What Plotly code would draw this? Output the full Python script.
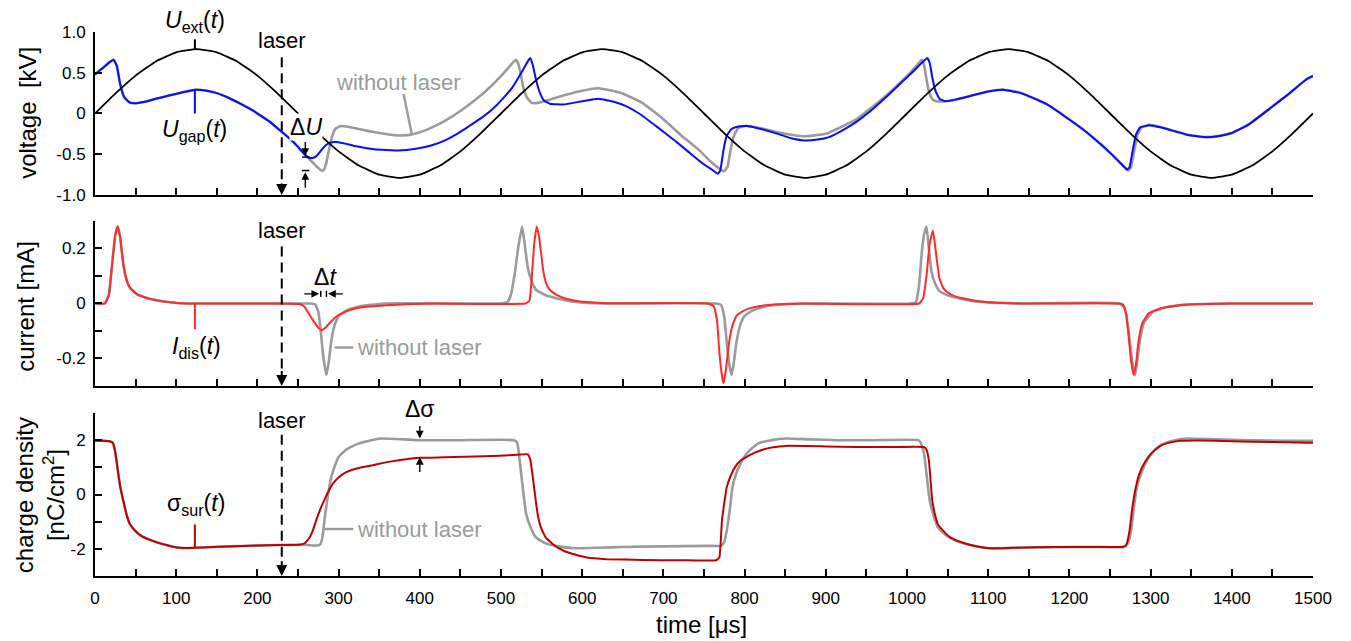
import plotly.graph_objects as go

FONT = "Liberation Sans, Arial, sans-serif"

# ---------------- data ----------------
# time axis [us] / tick values
x_ticks = list(range(0, 1501, 50))
x_ticktext = [str(v) if v % 100 == 0 else "" for v in x_ticks]
laser_time = 230

# external voltage U_ext [kV]
t_ext = list(range(0, 1501, 25))
u_ext = [0, 0.244, 0.465, 0.639, 0.751, 0.79, 0.751, 0.639, 0.465, 0.244,
         0, -0.244, -0.465, -0.639, -0.751, -0.79, -0.751, -0.639, -0.465, -0.244,
         0, 0.244, 0.465, 0.639, 0.751, 0.79, 0.751, 0.639, 0.465, 0.244,
         0, -0.244, -0.465, -0.639, -0.751, -0.79, -0.751, -0.639, -0.465, -0.244,
         0, 0.244, 0.465, 0.639, 0.751, 0.79, 0.751, 0.639, 0.465, 0.244,
         0, -0.244, -0.465, -0.639, -0.751, -0.79, -0.751, -0.639, -0.465, -0.244,
         0]

# gap voltage with laser [kV]
t_gap = [0, 10, 18, 23, 27, 31, 36, 42, 48, 60,
         75, 91, 108, 123, 138, 150, 165, 179, 192, 203,
         215, 227, 240, 250, 258, 263, 268, 273, 278, 284,
         290, 298, 308, 320, 344, 373, 397, 415, 431, 446,
         460, 475, 489, 502, 514, 525, 533, 536, 539, 543,
         548, 553, 560, 577, 600, 620, 640, 654, 670, 693,
         715, 732, 748, 760, 767, 770, 774, 778, 784, 790,
         802, 820, 841, 860, 873, 890, 904, 920, 938, 955,
         972, 990, 1006, 1018, 1025, 1028, 1031, 1035, 1040, 1047,
         1060, 1080, 1100, 1118, 1140, 1160, 1171, 1195, 1220, 1240,
         1254, 1265, 1271, 1274, 1278, 1282, 1287, 1298, 1312, 1327,
         1345, 1366, 1385, 1400, 1420, 1448, 1470, 1492, 1500]
u_gap = [0.48, 0.56, 0.63, 0.66, 0.58, 0.36, 0.2, 0.14, 0.125, 0.14,
         0.18, 0.22, 0.26, 0.29, 0.28, 0.25, 0.19, 0.12, 0.05, -0.02,
         -0.1, -0.2, -0.31, -0.41, -0.5, -0.54, -0.545, -0.52, -0.46, -0.39,
         -0.355, -0.35, -0.37, -0.4, -0.44, -0.455, -0.43, -0.39, -0.33, -0.25,
         -0.16, -0.06, 0.05, 0.18, 0.32, 0.5, 0.64, 0.68, 0.6, 0.42,
         0.25, 0.16, 0.12, 0.11, 0.15, 0.18, 0.14, 0.09, 0.0, -0.17,
         -0.34, -0.48, -0.61, -0.69, -0.74, -0.7, -0.45, -0.27, -0.19, -0.165,
         -0.155, -0.19, -0.25, -0.31, -0.33, -0.32, -0.29, -0.21, -0.1, 0.03,
         0.18, 0.35, 0.5, 0.62, 0.68, 0.62, 0.45, 0.28, 0.18, 0.15,
         0.17, 0.22, 0.27, 0.29, 0.25, 0.17, 0.12, -0.04, -0.22, -0.39,
         -0.52, -0.63, -0.69, -0.66, -0.45, -0.26, -0.17, -0.145, -0.17, -0.21,
         -0.26, -0.29, -0.275, -0.24, -0.14, 0.07, 0.24, 0.42, 0.46]

# gap voltage without laser [kV]
t_gap0 = [0, 10, 18, 23, 27, 31, 36, 42, 48, 60,
          75, 91, 108, 123, 138, 150, 165, 179, 192, 203,
          215, 227, 240, 250, 258, 263, 268, 273, 279, 282,
          285, 288, 292, 296, 302, 310, 334, 360, 373, 385,
          397, 415, 431, 450, 470, 485, 499, 510, 518, 521,
          524, 528, 533, 538, 545, 557, 580, 600, 620, 645,
          660, 674, 700, 722, 744, 758, 768, 775, 779, 783,
          787, 792, 802, 820, 841, 873, 900, 938, 972, 1000,
          1012, 1018, 1021, 1024, 1027, 1031, 1036, 1047, 1060, 1080,
          1100, 1118, 1140, 1160, 1171, 1195, 1220, 1240, 1254, 1265,
          1273, 1276, 1280, 1284, 1289, 1299, 1312, 1327, 1345, 1366,
          1385, 1400, 1420, 1448, 1470, 1492, 1500]
u_gap0 = [0.48, 0.56, 0.63, 0.66, 0.58, 0.36, 0.2, 0.14, 0.125, 0.14,
          0.18, 0.22, 0.26, 0.29, 0.28, 0.25, 0.19, 0.12, 0.05, -0.02,
          -0.1, -0.2, -0.31, -0.41, -0.5, -0.55, -0.6, -0.65, -0.7, -0.69,
          -0.6, -0.45, -0.28, -0.19, -0.155, -0.16, -0.21, -0.255, -0.27, -0.265,
          -0.24, -0.17, -0.09, 0.03, 0.18, 0.31, 0.45, 0.57, 0.66, 0.62,
          0.5, 0.3, 0.18, 0.13, 0.13, 0.16, 0.23, 0.28, 0.31, 0.26,
          0.2, 0.13, -0.07, -0.27, -0.45, -0.59, -0.67, -0.71, -0.65, -0.43,
          -0.27, -0.18, -0.15, -0.18, -0.23, -0.28, -0.25, -0.07, 0.2, 0.46,
          0.59, 0.66, 0.6, 0.42, 0.27, 0.18, 0.15, 0.15, 0.17, 0.22,
          0.27, 0.295, 0.255, 0.17, 0.12, -0.04, -0.22, -0.39, -0.52, -0.63,
          -0.7, -0.66, -0.45, -0.26, -0.17, -0.14, -0.165, -0.21, -0.26, -0.29,
          -0.275, -0.24, -0.14, 0.07, 0.24, 0.42, 0.46]

# discharge current with laser [mA]
t_cur = [0, 12, 17, 21, 25, 28, 31, 35, 39, 43,
         52, 62, 72, 85, 101, 120, 200, 252, 258, 264,
         270, 275, 279, 283, 290, 297, 305, 318, 334, 360,
         383, 420, 530, 535, 538, 541, 544, 547, 552, 556,
         560, 568, 577, 590, 606, 630, 755, 762, 766, 769,
         772, 774, 777, 781, 785, 790, 798, 807, 820, 841,
         870, 1015, 1020, 1024, 1028, 1032, 1035, 1040, 1045, 1050,
         1060, 1084, 1110, 1140, 1260, 1266, 1270, 1273, 1276, 1279,
         1282, 1285, 1290, 1298, 1310, 1327, 1351, 1400, 1500]
i_cur = [0, 0, 0.03, 0.14, 0.25, 0.28, 0.24, 0.14, 0.085, 0.057,
         0.033, 0.022, 0.014, 0.007, 0.002, 0, 0, -0.002, -0.012, -0.04,
         -0.068, -0.088, -0.096, -0.09, -0.068, -0.048, -0.034, -0.02, -0.012, -0.006,
         -0.003, 0, 0, 0.01, 0.1, 0.22, 0.28, 0.24, 0.12, 0.07,
         0.05, 0.032, 0.02, 0.011, 0.005, 0.001, 0, -0.01, -0.06, -0.18,
         -0.26, -0.29, -0.24, -0.14, -0.08, -0.045, -0.028, -0.017, -0.009, -0.003,
         0, 0, 0.02, 0.1, 0.22, 0.265, 0.2, 0.09, 0.055, 0.04,
         0.025, 0.01, 0.003, 0, 0, -0.004, -0.04, -0.12, -0.21, -0.26,
         -0.22, -0.14, -0.07, -0.035, -0.02, -0.01, -0.003, 0, 0]

# discharge current without laser [mA]
t_cur0 = [0, 12, 17, 21, 25, 28, 31, 35, 39, 43,
          52, 62, 72, 85, 101, 120, 240, 265, 271, 275,
          278, 281, 285, 288, 291, 295, 300, 310, 324, 340,
          358, 500, 508, 512, 517, 521, 526, 529, 533, 538,
          543, 555, 567, 585, 601, 640, 765, 771, 775, 778,
          781, 784, 787, 790, 795, 800, 810, 827, 850, 880,
          1005, 1011, 1015, 1018, 1021, 1024, 1027, 1030, 1035, 1040,
          1050, 1074, 1100, 1140, 1262, 1268, 1272, 1276, 1279, 1281,
          1284, 1287, 1292, 1303, 1320, 1345, 1400, 1500]
i_cur0 = [0, 0, 0.03, 0.14, 0.25, 0.28, 0.24, 0.14, 0.085, 0.057,
          0.033, 0.022, 0.014, 0.007, 0.002, 0, 0, 0, -0.003, -0.03,
          -0.1, -0.19, -0.26, -0.21, -0.136, -0.08, -0.046, -0.025, -0.012, -0.005,
          0, 0, 0.005, 0.03, 0.11, 0.2, 0.28, 0.22, 0.13, 0.08,
          0.05, 0.03, 0.02, 0.008, 0.003, 0, 0, -0.005, -0.05, -0.14,
          -0.22, -0.26, -0.21, -0.14, -0.075, -0.045, -0.025, -0.01, -0.003, 0,
          0, 0.005, 0.07, 0.18, 0.25, 0.28, 0.2, 0.117, 0.07, 0.045,
          0.03, 0.012, 0.004, 0, 0, -0.015, -0.08, -0.18, -0.24, -0.26,
          -0.2, -0.13, -0.07, -0.03, -0.013, -0.004, 0, 0]

# surface charge density with laser [nC/cm2]
t_sig = [0, 10, 18, 22, 25, 28, 31, 35, 39, 43,
         50, 57, 67, 77, 90, 101, 115, 123, 140, 164,
         200, 227, 251, 258, 264, 268, 273, 278, 283, 288,
         293, 300, 310, 320, 334, 350, 365, 383, 400, 431,
         480, 515, 533, 536, 538, 541, 545, 549, 555, 565,
         577, 590, 606, 630, 674, 720, 765, 769, 772, 775,
         778, 783, 788, 795, 802, 812, 822, 835, 851, 900,
         938, 980, 1021, 1024, 1027, 1031, 1035, 1038, 1045, 1052,
         1060, 1075, 1090, 1103, 1130, 1181, 1230, 1266, 1270, 1274,
         1277, 1281, 1286, 1293, 1302, 1313, 1325, 1337, 1360, 1400,
         1450, 1492, 1500]
s_sig = [1.98, 1.98, 1.96, 1.9, 1.55, 0.9, 0.3, -0.25, -0.75, -1.09,
         -1.35, -1.52, -1.66, -1.77, -1.88, -1.95, -1.97, -1.96, -1.94, -1.91,
         -1.88, -1.86, -1.85, -1.8, -1.6, -1.35, -0.9, -0.5, -0.16, 0.15,
         0.4, 0.63, 0.83, 0.94, 1.03, 1.13, 1.22, 1.3, 1.35, 1.37,
         1.41, 1.45, 1.48, 1.3, 0.9, 0.2, -0.7, -1.2, -1.58, -1.86,
         -2.07, -2.2, -2.32, -2.38, -2.41, -2.42, -2.42, -2.3, -1.0, -0.3,
         0.27, 0.7, 1.0, 1.25, 1.38, 1.53, 1.65, 1.74, 1.79, 1.77,
         1.75, 1.75, 1.75, 1.65, 1.25, -0.2, -0.8, -1.09, -1.35, -1.55,
         -1.68, -1.83, -1.93, -1.98, -1.96, -1.93, -1.93, -1.92, -1.85, -1.35,
         -0.6, 0.15, 0.75, 1.2, 1.55, 1.81, 1.92, 1.98, 1.99, 1.96,
         1.93, 1.91, 1.91]

# surface charge density without laser [nC/cm2]
t_sig0 = [0, 10, 18, 22, 25, 28, 31, 35, 39, 43,
          50, 57, 67, 77, 90, 101, 115, 123, 140, 164,
          200, 227, 251, 258, 264, 272, 277, 280, 283, 287,
          291, 296, 300, 308, 319, 335, 353, 380, 400, 450,
          516, 520, 523, 527, 531, 537, 543, 555, 567, 591,
          620, 650, 700, 754, 771, 775, 778, 782, 785, 790,
          798, 807, 817, 833, 851, 880, 914, 960, 1014, 1017,
          1021, 1025, 1028, 1033, 1038, 1048, 1060, 1080, 1103, 1140,
          1181, 1230, 1268, 1272, 1276, 1279, 1283, 1290, 1298, 1307,
          1317, 1330, 1346, 1380, 1424, 1470, 1500]
s_sig0 = [1.98, 1.98, 1.96, 1.9, 1.55, 0.9, 0.3, -0.25, -0.75, -1.09,
          -1.35, -1.52, -1.66, -1.77, -1.88, -1.95, -1.97, -1.96, -1.94, -1.91,
          -1.88, -1.86, -1.85, -1.85, -1.87, -1.88, -1.85, -1.6, -0.84, 0.0,
          0.64, 1.1, 1.38, 1.62, 1.81, 1.96, 2.06, 2.03, 2.0, 2.0,
          2.0, 1.9, 1.26, 0.2, -0.72, -1.25, -1.58, -1.8, -1.89, -1.98,
          -1.96, -1.93, -1.91, -1.89, -1.89, -1.75, -1.33, -0.5, 0.27, 0.8,
          1.32, 1.65, 1.88, 2.0, 2.06, 2.03, 2.0, 2.0, 2.0, 1.9,
          1.51, 0.5, -0.22, -0.8, -1.21, -1.5, -1.7, -1.88, -1.98, -1.96,
          -1.94, -1.93, -1.93, -1.8, -1.33, -0.6, 0.27, 0.9, 1.38, 1.7,
          1.88, 2.0, 2.06, 2.03, 2.0, 1.98, 1.98]

for a, b in [(t_ext, u_ext), (t_gap, u_gap), (t_gap0, u_gap0), (t_cur, i_cur),
             (t_cur0, i_cur0), (t_sig, s_sig), (t_sig0, s_sig0)]:
    assert len(a) == len(b), (len(a), len(b))

# ---------------- styling ----------------
BLACK = "#000000"
BLUE = "#0a0aff"
GRAY = "#9b9b9b"
RED = "#ff2a2a"
DARKRED = "#c00000"

fig = go.Figure()


def add(x, y, color, width, xa, ya):
    fig.add_trace(go.Scatter(x=x, y=y, mode="lines",
                             line=dict(color=color, width=width, shape="spline", smoothing=0.35),
                             xaxis=xa, yaxis=ya, showlegend=False, hoverinfo="skip"))


add(t_gap0, u_gap0, GRAY, 2.6, "x", "y")
add(t_gap, u_gap, BLUE, 2, "x", "y")
add(t_ext, u_ext, BLACK, 1.8, "x", "y")
add(t_cur0, i_cur0, GRAY, 2.6, "x2", "y2")
add(t_cur, i_cur, RED, 2, "x2", "y2")
add(t_sig0, s_sig0, GRAY, 2.6, "x3", "y3")
add(t_sig, s_sig, DARKRED, 2, "x3", "y3")

TICKFONT = dict(family=FONT, size=17, color="black")
xcommon = dict(range=[0, 1500], showline=True, linewidth=2, linecolor="black",
               ticks="inside", ticklen=7, tickwidth=2, tickcolor="black",
               tickvals=x_ticks, showgrid=False, zeroline=False, tickfont=TICKFONT)
ycommon = dict(showline=True, linewidth=2, linecolor="black", ticks="inside",
               ticklen=7, tickwidth=2, tickcolor="black", showgrid=False,
               zeroline=False, tickfont=TICKFONT, ticklabelstandoff=4)

fig.update_layout(
    width=1351, height=641,
    margin=dict(l=95, r=38, t=32, b=65),
    paper_bgcolor="white", plot_bgcolor="white",
    font=dict(family=FONT, color="black"),
    xaxis=dict(**xcommon, anchor="y", showticklabels=False),
    xaxis2=dict(**xcommon, anchor="y2", showticklabels=False, matches="x"),
    xaxis3=dict(**xcommon, anchor="y3", ticktext=x_ticktext, ticklabelstandoff=6),
    yaxis=dict(**ycommon, anchor="x", domain=[0.7004, 1.0], range=[-1, 1],
               tickvals=[-1, -0.5, 0, 0.5, 1], ticktext=["-1.0", "-0.5", "0", "0.5", "1.0"]),
    yaxis2=dict(**ycommon, anchor="x2", domain=[0.3493, 0.6526], range=[-0.3, 0.3],
                tickvals=[-0.3, -0.2, -0.1, 0, 0.1, 0.2, 0.3],
                ticktext=["", "-0.2", "", "0", "", "0.2", ""]),
    yaxis3=dict(**ycommon, anchor="x3", domain=[0, 0.2996], range=[-3, 3],
                tickvals=[-3, -2, -1, 0, 1, 2, 3],
                ticktext=["", "-2", "", "0", "", "2", ""]),
)

shapes = []
ann = []
LBL = 22


def text(x, y, s, xref, yref, color="black", size=LBL, **kw):
    kw.setdefault("xanchor", "center")
    kw.setdefault("yanchor", "middle")
    ann.append(dict(x=x, y=y, text=s, xref=xref, yref=yref, showarrow=False,
                    font=dict(family=FONT, size=size, color=color), **kw))


def seg(x0, y0, x1, y1, xref, yref, color="black", width=2, dash=None):
    ln = dict(color=color, width=width)
    if dash:
        ln["dash"] = dash
    shapes.append(dict(type="line", x0=x0, y0=y0, x1=x1, y1=y1, xref=xref, yref=yref, line=ln))


def arrow(x, y, ax, ay, xref, yref, size=1.4, width=1.6):
    ann.append(dict(x=x, y=y, ax=ax, ay=ay, xref=xref, yref=yref, axref=xref, ayref=yref,
                    showarrow=True, arrowhead=2, arrowsize=size, arrowwidth=width,
                    arrowcolor="black", text="", standoff=0))


# laser arrows in every panel
for xr, yr, ytxt, ytop, ybot, yhead in [("x", "y", 0.89, 0.69, -0.84, -1.0),
                                        ("x2", "y2", 0.267, 0.207, -0.24, -0.3),
                                        ("x3", "y3", 2.74, 2.2, -2.4, -3.0)]:
    text(laser_time, ytxt, "laser", xr, yr)
    seg(laser_time, ytop, laser_time, ybot, xr, yr, width=2, dash="10px,6px")
    arrow(laser_time, yhead, laser_time, ybot, xr, yr, size=1.1, width=2)

# top panel labels
seg(123, 0.79, 123, 0.91, "x", "y", color=BLACK, width=2)
text(123, 0.93, "<i>U</i><sub>ext</sub>(<i>t</i>)", "x", "y", yanchor="bottom", size=23)
seg(123, 0.29, 123, 0.0, "x", "y", color=BLUE, width=2)
text(123, -0.01, "<i>U</i><sub>gap</sub>(<i>t</i>)", "x", "y", yanchor="top", size=23)
text(374, 0.38, "without laser", "x", "y", color=GRAY)
seg(380, 0.24, 390, -0.245, "x", "y", color=GRAY, width=2.4)
text(260, -0.16, "Δ<i>U</i>", "x", "y", size=23, bgcolor="white", borderpad=0)
arrow(259, -0.52, 259, -0.33, "x", "y", size=1.1, width=1.4)
seg(255, -0.535, 264, -0.535, "x", "y", width=1.5)
arrow(259, -0.72, 259, -0.93, "x", "y", size=1.1, width=1.4)
seg(255, -0.70, 264, -0.70, "x", "y", width=1.5)

# middle panel labels
seg(123, 0.0, 123, -0.094, "x2", "y2", color=RED, width=2)
text(125, -0.1, "<i>I</i><sub>dis</sub>(<i>t</i>)", "x2", "y2", yanchor="top", size=23)
text(284, 0.096, "Δ<i>t</i>", "x2", "y2", size=23)
arrow(276, 0.035, 256, 0.035, "x2", "y2", size=1.1, width=1.4)
seg(278, 0.024, 278, 0.046, "x2", "y2", width=1.5)
arrow(287, 0.035, 307, 0.035, "x2", "y2", size=1.1, width=1.4)
seg(285, 0.024, 285, 0.046, "x2", "y2", width=1.5)
seg(295, -0.16, 318, -0.16, "x2", "y2", color=GRAY, width=2.4)
text(320, -0.16, "without laser", "x2", "y2", color=GRAY, xanchor="left")

# bottom panel labels
seg(123, -1.1, 123, -1.95, "x3", "y3", color=DARKRED, width=2)
text(124, -0.35, "σ<sub>sur</sub>(<i>t</i>)", "x3", "y3", size=23)
text(400 / 1500, 0.307, "Δσ", "paper", "paper", size=23)
arrow(400, 2.06, 400, 2.58, "x3", "y3", size=1.1, width=1.4)
arrow(400, 1.38, 400, 0.77, "x3", "y3", size=1.1, width=1.4)
seg(283, -1.27, 318, -1.27, "x3", "y3", color=GRAY, width=2.4)
text(320, -1.27, "without laser", "x3", "y3", color=GRAY, xanchor="left")

# axis titles
TITLE = 24
for x, y, s in [(-0.056, 0.851, "voltage  [kV]"),
                (-0.057, 0.496, "current [mA]"),
                (-0.045, 0.149, "charge density<br>[nC/cm<sup>2</sup>]")]:
    ann.append(dict(x=x, y=y, xref="paper", yref="paper", text=s, textangle=-90,
                    xanchor="center", yanchor="middle", showarrow=False,
                    font=dict(family=FONT, size=TITLE)))
ann.append(dict(x=0.498, y=-0.09, xref="paper", yref="paper", text="time [μs]",
                xanchor="center", yanchor="middle", showarrow=False,
                font=dict(family=FONT, size=TITLE)))

fig.update_layout(shapes=shapes, annotations=ann)

fig.write_html("out.html", config={"displayModeBar": False},
               post_script="document.body.style.margin='0';")
